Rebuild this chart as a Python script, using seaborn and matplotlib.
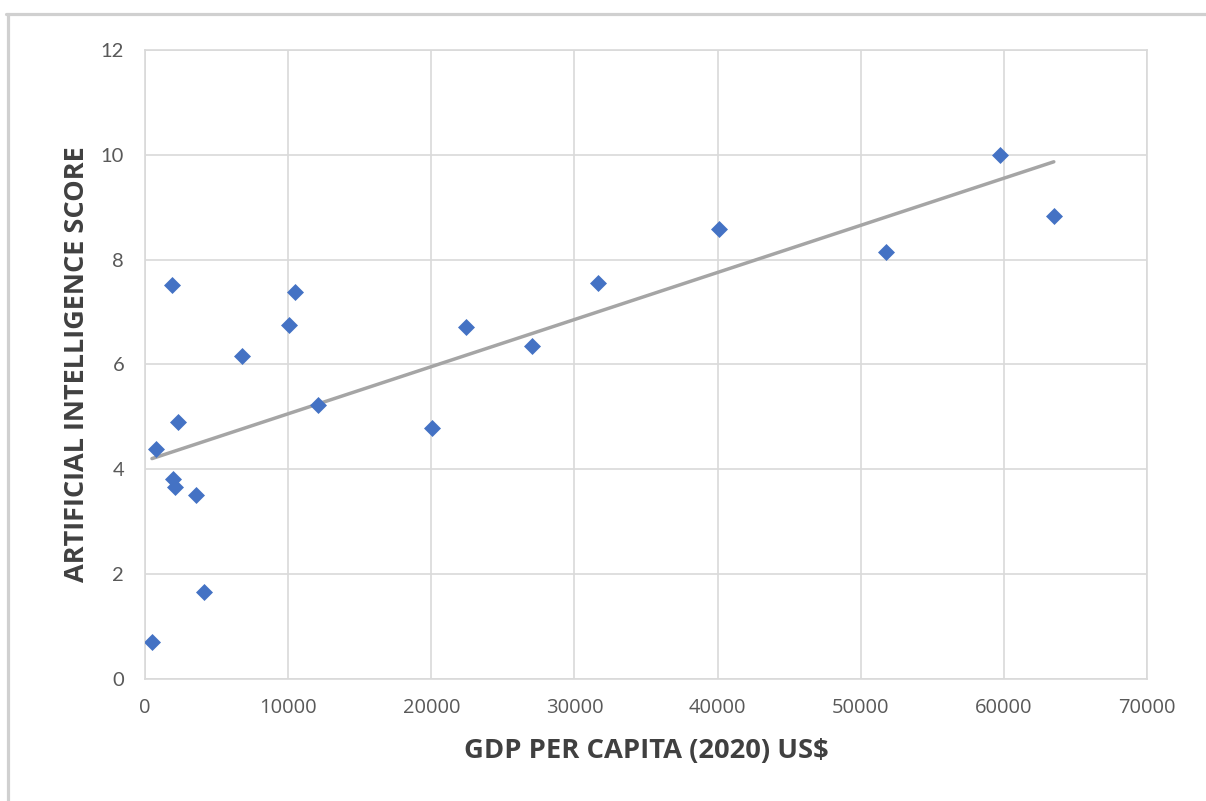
import matplotlib
matplotlib.use("Agg")
import matplotlib.pyplot as plt
from matplotlib.lines import Line2D
import numpy as np
import pandas as pd
import seaborn as sns

# GDP per capita (2020, US$) and AI score per country
gdp_per_capita = [490, 770, 1890, 1960, 2100, 2300, 3560, 4120, 6770, 10060,
                  10470, 12080, 20040, 22420, 27030, 31630, 40080, 51750, 59710, 63480]
ai_score = [0.71, 4.39, 7.52, 3.82, 3.66, 4.90, 3.51, 1.66, 6.16, 6.76,
            7.39, 5.23, 4.79, 6.72, 6.36, 7.56, 8.59, 8.15, 10.0, 8.84]

x_ticks = [0, 10000, 20000, 30000, 40000, 50000, 60000, 70000]
y_ticks = [0, 2, 4, 6, 8, 10, 12]

df = pd.DataFrame({"gdp": gdp_per_capita, "score": ai_score})

sns.set_theme(style="white")
plt.rcParams["font.family"] = ["Lato", "DejaVu Sans"]

fig = plt.figure(figsize=(12.06, 8.01), dpi=100)
ax = fig.add_axes([0.1202, 0.1523, 0.8310, 0.7853])

grid_col = "#D9D9D9"
ax.set_xlim(0, 70000)
ax.set_ylim(0, 12)
ax.set_xticks(x_ticks)
ax.set_yticks(y_ticks)
ax.grid(True, color=grid_col, linewidth=1.2)
ax.set_axisbelow(True)
for side in ["left", "right", "top", "bottom"]:
    ax.spines[side].set_color(grid_col)
    ax.spines[side].set_linewidth(1.2)

# Linear trendline over the data range
sns.regplot(data=df, x="gdp", y="score", ax=ax, scatter=False, ci=None,
            truncate=True, line_kws={"color": "#A5A5A5", "linewidth": 2.5})

sns.scatterplot(data=df, x="gdp", y="score", ax=ax, marker="D", s=75,
                color="#4472C4", edgecolor="#4472C4", linewidth=0, zorder=3)

ax.tick_params(axis="both", length=0, labelcolor="#595959")
ax.tick_params(axis="y", pad=15, labelsize=14.5)
ax.tick_params(axis="x", pad=14)
ax.set_xticklabels([str(t) for t in x_ticks])
for lab in ax.get_xticklabels():
    lab.set_fontfamily(["Open Sans", "DejaVu Sans"])
    lab.set_fontsize(14.5)

label_font = ["Open Sans", "DejaVu Sans"]
ax.set_xlabel("GDP PER CAPITA (2020) US$", fontsize=19.7, fontweight="bold",
              family=label_font, color="#404040", labelpad=14)
ax.set_ylabel("ARTIFICIAL INTELLIGENCE SCORE", fontsize=19.5, fontweight="bold",
              family=label_font, color="#404040", labelpad=8)

# Chart area border (top and left edges)
border_col = "#D0D0D0"
fig.add_artist(Line2D([6 / 1206, 1.0], [1 - 14 / 801, 1 - 14 / 801],
                      transform=fig.transFigure, color=border_col, linewidth=2.3))
fig.add_artist(Line2D([8 / 1206, 8 / 1206], [0.0, 1 - 14 / 801],
                      transform=fig.transFigure, color=border_col, linewidth=2.3))

fig.savefig("out.png", dpi=100, facecolor="white")
